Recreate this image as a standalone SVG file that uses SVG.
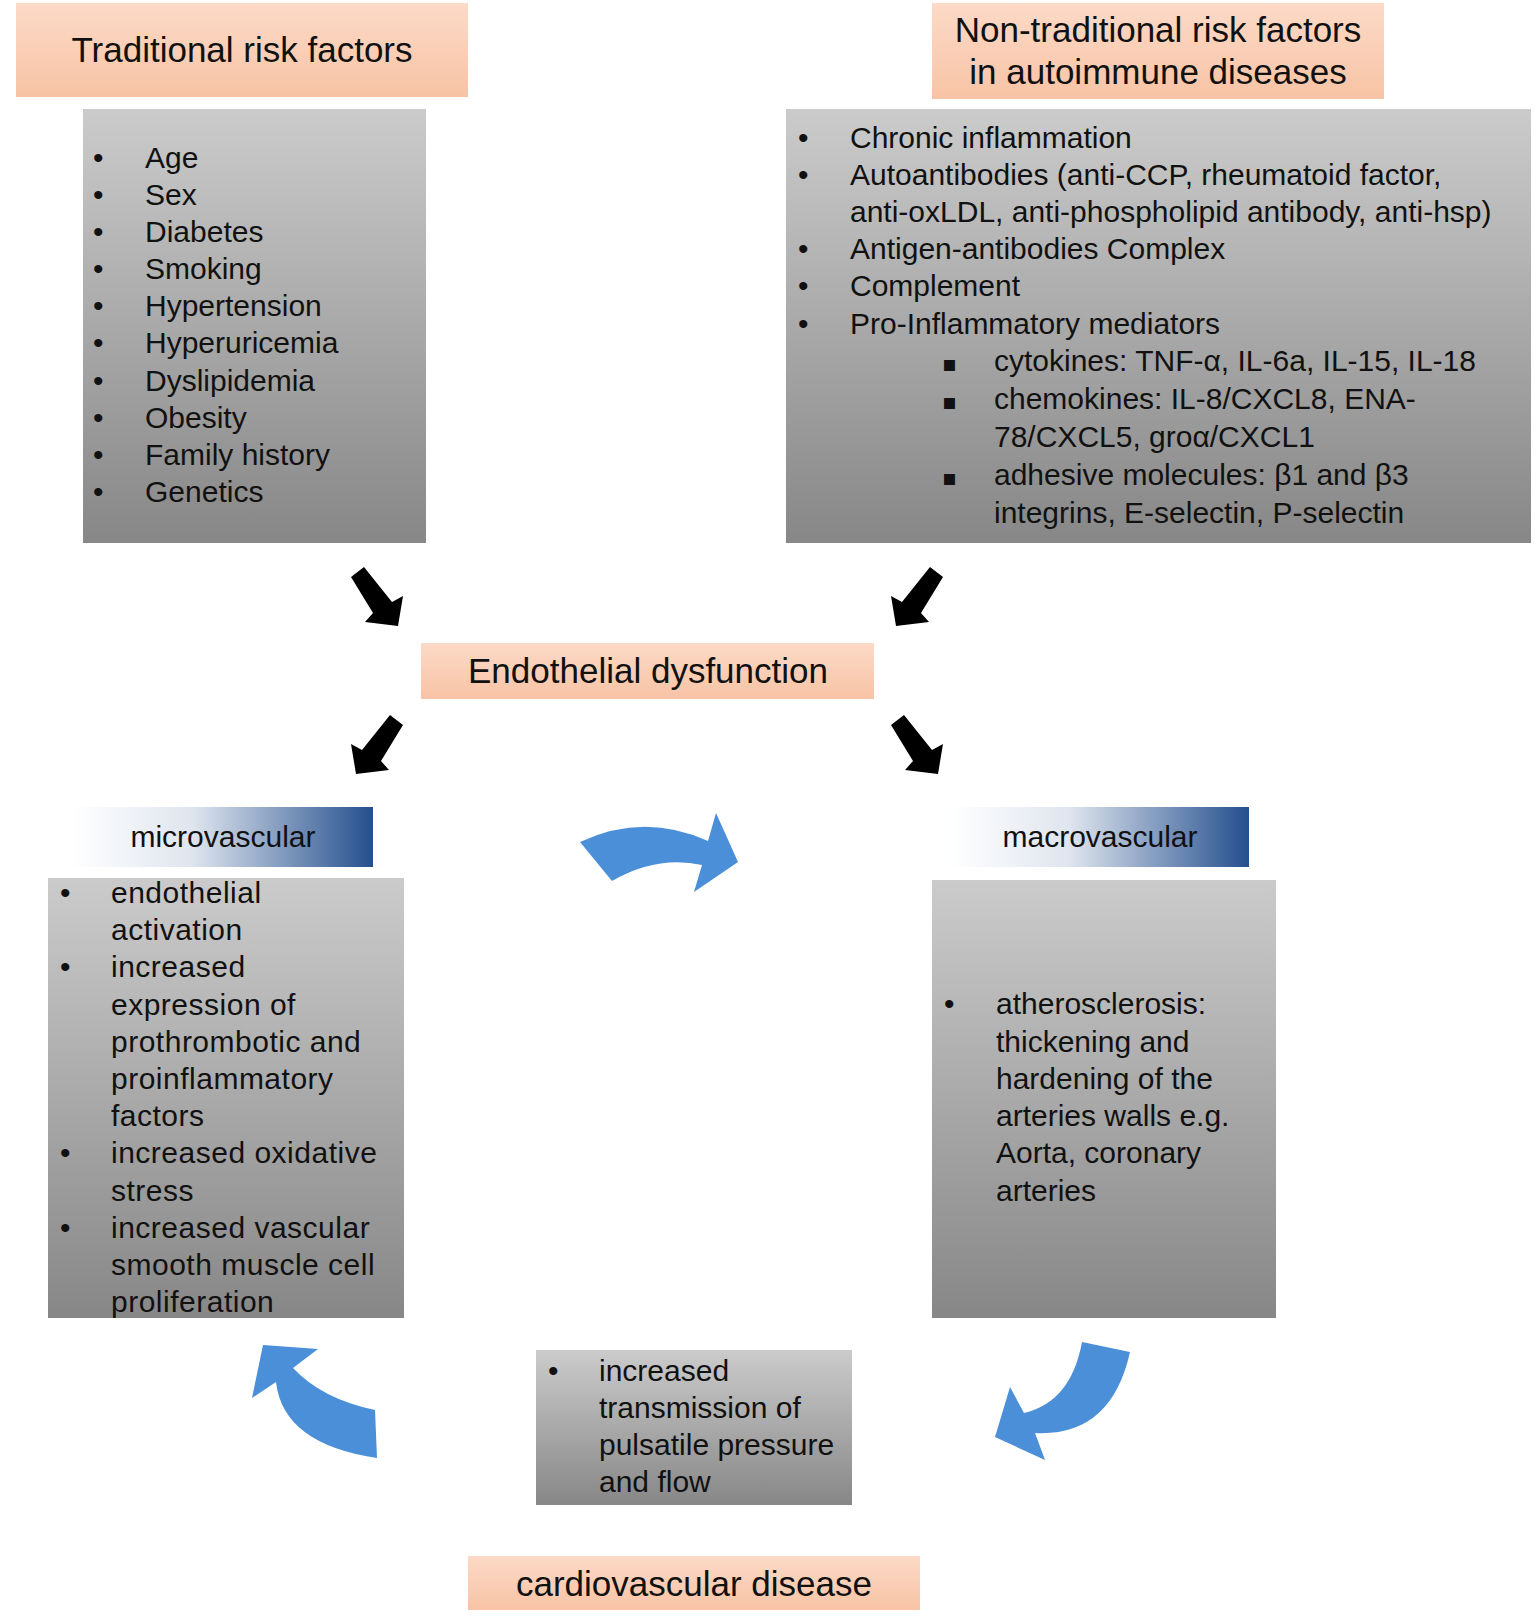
<svg xmlns="http://www.w3.org/2000/svg" width="1535" height="1619" viewBox="0 0 1535 1619">
<defs>
<linearGradient id="peach" x1="0" y1="0" x2="0" y2="1">
<stop offset="0" stop-color="#fcdac7"/>
<stop offset="1" stop-color="#f8c3a5"/>
</linearGradient>
<linearGradient id="gray" x1="0" y1="0" x2="0" y2="1">
<stop offset="0" stop-color="#cbcbcb"/>
<stop offset="1" stop-color="#878787"/>
</linearGradient>
<linearGradient id="blue" x1="0" y1="0" x2="1" y2="0">
<stop offset="0" stop-color="#ffffff"/>
<stop offset="0.4" stop-color="#dfe5ee"/>
<stop offset="1" stop-color="#244f8e"/>
</linearGradient>
<style>
text{font-family:"Liberation Sans",Arial,sans-serif;fill:#111}
.title{font-size:35px;text-anchor:middle}
.body{font-size:30px}
.wide text{letter-spacing:0.5px}
.peach{fill:url(#peach)}
.gray{fill:url(#gray)}
.hdr{fill:url(#blue)}
.blk{fill:#000}
.blu{fill:#4a8fd8}
</style>
</defs>
<rect width="1535" height="1619" fill="#fff"/>

<g id="traditional-title">
<rect class="peach" x="16" y="3" width="452" height="94"/>
<text class="title" x="242" y="62">Traditional risk factors</text>
</g>

<g id="nontraditional-title">
<rect class="peach" x="932" y="3" width="452" height="96"/>
<text class="title" x="1158" y="42">Non-traditional risk factors</text>
<text class="title" x="1158" y="84">in autoimmune diseases</text>
</g>

<g id="traditional-list">
<rect class="gray" x="83" y="109" width="343" height="434"/>
<g class="body">
<text x="93" y="168">•</text><text x="145" y="168">Age</text>
<text x="93" y="205">•</text><text x="145" y="205">Sex</text>
<text x="93" y="242">•</text><text x="145" y="242">Diabetes</text>
<text x="93" y="279">•</text><text x="145" y="279">Smoking</text>
<text x="93" y="316">•</text><text x="145" y="316">Hypertension</text>
<text x="93" y="353">•</text><text x="145" y="353">Hyperuricemia</text>
<text x="93" y="391">•</text><text x="145" y="391">Dyslipidemia</text>
<text x="93" y="428">•</text><text x="145" y="428">Obesity</text>
<text x="93" y="465">•</text><text x="145" y="465">Family history</text>
<text x="93" y="502">•</text><text x="145" y="502">Genetics</text>
</g>
</g>

<g id="nontraditional-list">
<rect class="gray" x="786" y="109" width="745" height="434"/>
<g class="body">
<text x="798" y="148">•</text><text x="850" y="148">Chronic inflammation</text>
<text x="798" y="185">•</text><text x="850" y="185">Autoantibodies (anti-CCP, rheumatoid factor,</text>
<text x="850" y="222">anti-oxLDL, anti-phospholipid antibody, anti-hsp)</text>
<text x="798" y="259">•</text><text x="850" y="259">Antigen-antibodies Complex</text>
<text x="798" y="296">•</text><text x="850" y="296">Complement</text>
<text x="798" y="334">•</text><text x="850" y="334">Pro-Inflammatory mediators</text>
<text x="942" y="371" style="font-family:'DejaVu Sans',sans-serif;font-size:22px">▪</text><text x="994" y="371">cytokines: TNF-α, IL-6a, IL-15, IL-18</text>
<text x="942" y="409" style="font-family:'DejaVu Sans',sans-serif;font-size:22px">▪</text><text x="994" y="409">chemokines: IL-8/CXCL8, ENA-</text>
<text x="994" y="447">78/CXCL5, groα/CXCL1</text>
<text x="942" y="485" style="font-family:'DejaVu Sans',sans-serif;font-size:22px">▪</text><text x="994" y="485">adhesive molecules: β1 and β3</text>
<text x="994" y="523">integrins, E-selectin, P-selectin</text>
</g>
</g>

<g id="endothelial">
<rect class="peach" x="421" y="643" width="453" height="56"/>
<text class="title" x="648" y="683">Endothelial dysfunction</text>
</g>

<g id="microvascular-header">
<rect class="hdr" x="72" y="807" width="301" height="60"/>
<text class="body" x="223" y="847" text-anchor="middle">microvascular</text>
</g>

<g id="macrovascular-header">
<rect class="hdr" x="950" y="807" width="299" height="60"/>
<text class="body" x="1100" y="847" text-anchor="middle">macrovascular</text>
</g>

<g id="microvascular-list">
<rect class="gray" x="48" y="878" width="356" height="440"/>
<g class="body wide">
<text x="60" y="903">•</text><text x="111" y="903">endothelial</text>
<text x="111" y="940">activation</text>
<text x="60" y="977">•</text><text x="111" y="977">increased</text>
<text x="111" y="1015">expression of</text>
<text x="111" y="1052">prothrombotic and</text>
<text x="111" y="1089">proinflammatory</text>
<text x="111" y="1126">factors</text>
<text x="60" y="1163">•</text><text x="111" y="1163">increased oxidative</text>
<text x="111" y="1201">stress</text>
<text x="60" y="1238">•</text><text x="111" y="1238">increased vascular</text>
<text x="111" y="1275">smooth muscle cell</text>
<text x="111" y="1312">proliferation</text>
</g>
</g>

<g id="macrovascular-list">
<rect class="gray" x="932" y="880" width="344" height="438"/>
<g class="body">
<text x="944" y="1014">•</text><text x="996" y="1014">atherosclerosis:</text>
<text x="996" y="1052">thickening and</text>
<text x="996" y="1089">hardening of the</text>
<text x="996" y="1126">arteries walls e.g.</text>
<text x="996" y="1163">Aorta, coronary</text>
<text x="996" y="1201">arteries</text>
</g>
</g>

<g id="pulsatile">
<rect class="gray" x="536" y="1350" width="316" height="155"/>
<g class="body">
<text x="548" y="1381">•</text><text x="599" y="1381">increased</text>
<text x="599" y="1418">transmission of</text>
<text x="599" y="1455">pulsatile pressure</text>
<text x="599" y="1492">and flow</text>
</g>
</g>

<g id="cardiovascular">
<rect class="peach" x="468" y="1556" width="452" height="54"/>
<text class="title" x="694" y="1596">cardiovascular disease</text>
</g>

<g id="connectors">
<polygon class="blk" points="351,577 364,567 392,602 403,596 398,626 365,622 373,613"/>
<polygon class="blk" points="943,577 930,567 902,602 891,596 896,626 929,622 921,613"/>
<polygon class="blk" points="403,725 390,715 362,750 351,744 356,774 389,770 381,761"/>
<polygon class="blk" points="891,725 904,715 932,750 943,744 938,774 905,770 913,761"/>
<path class="blu" d="M580,842 Q644,812 708,841 L716,813 L738,862 L694,892 L702,865 Q657,855 612,881 Z"/>
<path class="blu" d="M263,1345 L318,1349 L293,1368 Q322,1399 375,1410 L377,1458 Q283,1444 276,1382 L252,1398 Z"/>
<path class="blu" d="M1082,1342 L1130,1352 Q1111,1437 1035,1433 L1045,1460 L995,1437 L1010,1387 L1024,1413 Q1071,1402 1082,1342 Z"/>
</g>
</svg>
